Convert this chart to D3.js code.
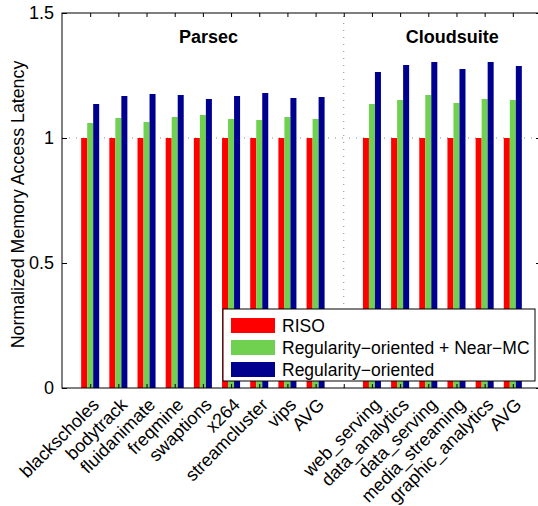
<!DOCTYPE html>
<html>
<head>
<meta charset="utf-8">
<script src="https://cdn.jsdelivr.net/npm/d3@7"></script>
<style>
  body { margin: 0; background: #fff; }
  text { font-family: "Liberation Sans", Arial, sans-serif; }
</style>
</head>
<body>
<svg id="chart" width="538" height="506"></svg>
<script>
// categories, one empty slot between the two suites
const categories = ["blackscholes", "bodytrack", "fluidanimate", "freqmine", "swaptions", "x264",
                    "streamcluster", "vips", "AVG", "", "web_serving", "data_analytics", "data_serving",
                    "media_streaming", "graphic_analytics", "AVG"]
const series = ["RISO", "Regularity\u2212oriented + Near\u2212MC", "Regularity\u2212oriented"]
const riso     = [1, 1, 1, 1, 1, 1, 1, 1, 1, null, 1, 1, 1, 1, 1, 1]
const nearMC   = [1.06, 1.08, 1.064, 1.084, 1.092, 1.076, 1.072, 1.084, 1.076, null, 1.136, 1.152, 1.172, 1.14, 1.156, 1.152]
const regular  = [1.136, 1.168, 1.176, 1.172, 1.156, 1.168, 1.18, 1.16, 1.164, null, 1.264, 1.292, 1.304, 1.276, 1.304, 1.288]
const yTicks = [0, 0.5, 1, 1.5]
const colors = ["#ff0000", "#70d050", "#00008f"]

const margin = {left: 62, right: -3, top: 13, bottom: 118}
const width = 538, height = 506
const svg = d3.select('#chart')

const x = d3.scaleLinear().domain([0, 17]).range([margin.left, width - margin.right])
const y = d3.scaleLinear().domain([0, 1.5]).range([height - margin.bottom, margin.top])
const inner = d3.scaleBand().domain([0, 1, 2]).range([-0.32, 0.32])

const values = [riso, nearMC, regular]

// reference lines
svg.append('line')
    .attr('x1', x(0)).attr('x2', x(17))
    .attr('y1', y(1)).attr('y2', y(1))
    .attr('stroke', '#888').attr('stroke-dasharray', '1,6')
svg.append('line')
    .attr('x1', x(10)).attr('x2', x(10))
    .attr('y1', y(0)).attr('y2', y(1.5))
    .attr('stroke', '#888').attr('stroke-dasharray', '1,6')

// bars
values.forEach((vals, s) => {
    svg.append('g').selectAll('rect')
        .data(vals.map((v, i) => ({v, i})).filter(d => d.v != null))
        .join('rect')
        .attr('x', d => x(d.i + 1 + inner(s)))
        .attr('width', x(inner.bandwidth()) - x(0))
        .attr('y', d => y(d.v))
        .attr('height', d => y(0) - y(d.v))
        .attr('fill', colors[s])
})

// box
svg.append('rect')
    .attr('x', x(0)).attr('y', y(1.5))
    .attr('width', x(17) - x(0)).attr('height', y(0) - y(1.5))
    .attr('fill', 'none').attr('stroke', '#000')

// y axis left and right, ticks inside
svg.append('g')
    .attr('transform', `translate(${x(0)},0)`)
    .call(d3.axisLeft(y).tickValues(yTicks).tickSize(-5).tickPadding(8).tickFormat(d3.format('')))
    .call(g => g.select('.domain').remove())
    .call(g => g.selectAll('text').attr('font-size', 18).attr('font-family', 'Liberation Sans'))
svg.append('g')
    .attr('transform', `translate(${x(17)},0)`)
    .call(d3.axisRight(y).tickValues(yTicks).tickSize(-5).tickFormat(''))
    .call(g => g.select('.domain').remove())

// x ticks top and bottom
const slots = d3.range(1, 17)
svg.append('g')
    .attr('transform', `translate(0,${y(0)})`)
    .call(d3.axisBottom(x).tickValues(slots).tickSize(-4).tickFormat(''))
    .call(g => g.select('.domain').remove())
svg.append('g')
    .attr('transform', `translate(0,${y(1.5)})`)
    .call(d3.axisTop(x).tickValues(slots).tickSize(-4).tickFormat(''))
    .call(g => g.select('.domain').remove())

// category labels
svg.append('g').selectAll('text')
    .data(categories.map((c, i) => ({c, i})).filter(d => d.c))
    .join('text')
    .attr('transform', d => `translate(${x(d.i + 1) + 1},${y(0) + 9}) rotate(-45)`)
    .attr('text-anchor', 'end')
    .attr('dy', '0.7em')
    .attr('font-size', 18)
    .text(d => d.c)

// suite titles
svg.append('text').attr('x', x(5.2)).attr('y', 43)
    .attr('text-anchor', 'middle').attr('font-size', 18).attr('font-weight', 'bold').text('Parsec')
svg.append('text').attr('x', x(13.85)).attr('y', 43)
    .attr('text-anchor', 'middle').attr('font-size', 18).attr('font-weight', 'bold').text('Cloudsuite')

// y label
svg.append('text')
    .attr('transform', `translate(24,${(y(0) + y(1.5)) / 2 + 4}) rotate(-90)`)
    .attr('text-anchor', 'middle')
    .attr('font-size', 17.8)
    .text('Normalized Memory Access Latency')

// legend
const legend = svg.append('g').attr('transform', 'translate(223,309)')
legend.append('rect').attr('width', 312).attr('height', 72)
    .attr('fill', '#fff').attr('stroke', '#000')
series.forEach((s, i) => {
    legend.append('rect').attr('x', 8).attr('y', 9 + i * 22).attr('width', 44).attr('height', 15)
        .attr('fill', colors[i])
    legend.append('text').attr('x', 59).attr('y', 16.5 + i * 22).attr('dy', '0.35em')
        .attr('font-size', 17.5).text(s)
})
</script>
</body>
</html>
